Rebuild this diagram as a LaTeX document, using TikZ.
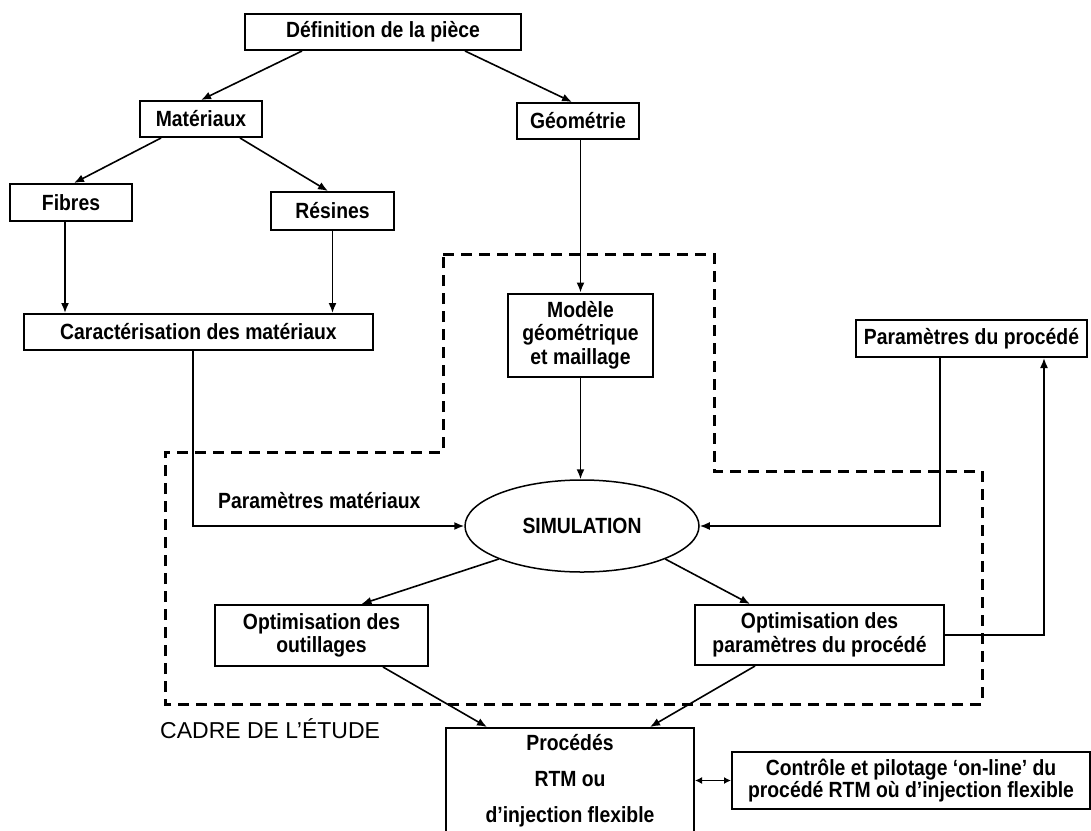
\documentclass[tikz,border=0pt]{standalone}
\usepackage{fontspec}
\setmainfont{Liberation Sans}[FakeStretch=0.88]
\newfontfamily\cadrefont{Liberation Sans}
\usetikzlibrary{arrows.meta,shapes.geometric}
\begin{document}
\begin{tikzpicture}[x=1pt,y=-1pt,
  box/.style={draw, line width=2pt, inner sep=0pt, align=center,
    font=\bfseries\fontsize{22}{23.5}\selectfont},
  arr/.style={line width=1.6pt, -{Latex[length=10pt,width=8pt]}},
  darr/.style={line width=1.6pt, {Latex[length=7pt,width=7pt]}-{Latex[length=7pt,width=7pt]}},
  cadre/.style={line width=3pt, dash pattern=on 11pt off 7pt},
  lbl/.style={inner sep=0pt, font=\bfseries\fontsize{22}{23.5}\selectfont}]
\useasboundingbox (0,0) rectangle (1091,830);
\fill[white] (0,0) rectangle (1091,830);

% dashed study frame
\draw[cadre] (443,254) -- (714,254) -- (714,471) -- (982,471) -- (982,704)
  -- (165,704) -- (165,452) -- (443,452) -- cycle;

% nodes
\node[box, minimum width=276, minimum height=36] (def) at (383,32) {Définition de la pièce};
\node[box, minimum width=122, minimum height=36] (mat) at (201,119) {Matériaux};
\node[box, minimum width=122, minimum height=36] (geo) at (578,121) {Géométrie};
\node[box, minimum width=122, minimum height=37] (fib) at (71,202.5) {Fibres};
\node[box, minimum width=123, minimum height=38] (res) at (332.5,211) {Résines};
\node[box, minimum width=349, minimum height=36] (car) at (198.5,332) {Caractérisation des matériaux};
\node[box, minimum width=145, minimum height=83] (mod) at (580.5,335) {Modèle\\géométrique\\et maillage};
\node[box, minimum width=231, minimum height=37] (par) at (971.5,338.5) {Paramètres du procédé};
\node[draw, ellipse, line width=1.5pt, minimum width=234, minimum height=92, inner sep=0pt,
  font=\bfseries\fontsize{22}{23.5}\selectfont] (sim) at (582,526) {SIMULATION};
\node[box, minimum width=213, minimum height=61] (oo) at (321.5,635.5) {Optimisation des\\outillages};
\node[box, minimum width=249, minimum height=60] (op) at (819.5,635) {Optimisation des\\paramètres du procédé};
\node[box, minimum width=248, minimum height=106, font=\bfseries\fontsize{22}{36}\selectfont]
  (proc) at (570,781) {Procédés\\RTM ou\\d’injection flexible};
\node[box, minimum width=358, minimum height=57, font=\bfseries\fontsize{22}{22}\selectfont]
  (ctl) at (911,780.5) {Contrôle et pilotage ‘on-line’ du\\procédé RTM où d’injection flexible};

\node[lbl, anchor=west] (pm) at (218,501) {Paramètres matériaux};
\node[inner sep=0pt, anchor=west, font=\cadrefont\fontsize{23}{24}\selectfont] (cad) at (160,729) {CADRE DE L’ÉTUDE};

% connectors
\draw[arr] ([xshift=-81pt]def.south) -- (mat.north);
\draw[arr] ([xshift=82pt]def.south) -- ([xshift=-6pt]geo.north);
\draw[arr] ([xshift=-40pt]mat.south) -- ([xshift=3pt]fib.north);
\draw[arr] ([xshift=39pt]mat.south) -- ([xshift=-4.5pt]res.north);
\draw[arr] ([xshift=-6pt]fib.south) -- ([xshift=-6pt]fib.south |- car.north);
\draw[arr] (res.south) -- (res.south |- car.north);
\draw[arr] (mod.north |- geo.south) -- (mod.north);
\draw[arr] (mod.south) -- (mod.south |- sim.north);
\draw[arr] ([xshift=-5.5pt]car.south) |- (sim.west);
\draw[arr] ([xshift=-31.5pt]par.south) |- (sim.east);
\draw[arr] (sim.south west) -- ([xshift=40pt]oo.north);
\draw[arr] (sim.south east) -- ([xshift=-69.5pt]op.north);
\draw[arr] ([xshift=61.5pt]oo.south) -- ([xshift=-83pt]proc.north);
\draw[arr] ([xshift=-64.5pt]op.south) -- ([xshift=80pt]proc.north);
\draw[arr] (op.east) -| ([xshift=72.5pt]par.south);
\draw[darr] (proc.east |- ctl.west) -- (ctl.west);
\end{tikzpicture}
\end{document}
